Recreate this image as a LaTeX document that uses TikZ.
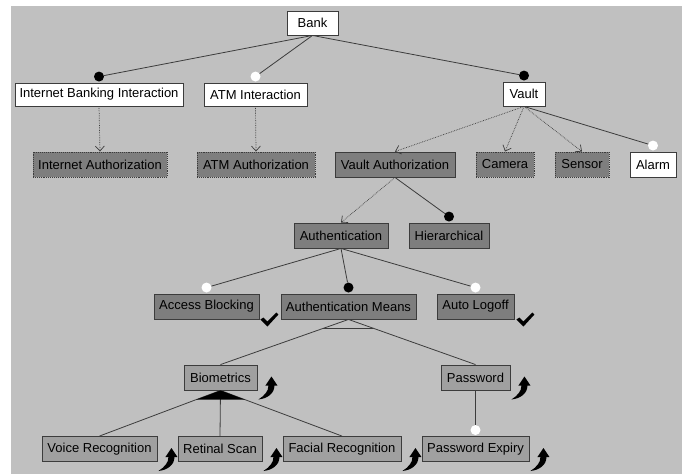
\documentclass[tikz,border=0pt]{standalone}
\usepackage{fontspec}
\setmainfont{Liberation Sans}
\usetikzlibrary{calc,arrows.meta}
\definecolor{bgc}{HTML}{C0C0C0}
\definecolor{dgc}{HTML}{7E7E7E}
\definecolor{lgc}{HTML}{A0A0A0}
\definecolor{edgec}{HTML}{3C3C3C}
\begin{document}
\begin{tikzpicture}[x=1pt,y=-1pt,
 box/.style={draw=edgec, line width=0.9pt, minimum height=24pt, inner sep=0pt, font=\fontsize{13}{15}\selectfont, text=black},
 wbox/.style={box, fill=white},
 dbox/.style={box, fill=dgc},
 dotbox/.style={box, fill=dgc, densely dotted},
 lbox/.style={box, fill=lgc},
 conn/.style={draw=edgec, line width=0.8pt},
 dconn/.style={draw=edgec, line width=0.7pt, densely dotted, -{Straight Barb[length=5pt,width=9pt]}},
 fdot/.style={circle, fill=black, minimum size=10pt, inner sep=0pt},
 odot/.style={circle, fill=white, minimum size=10pt, inner sep=0pt},
 curvy/.pic={\fill[black] (13,0) -- (19,9) -- (16,9) .. controls (16,17) and (9,22) .. (0,23) .. controls (6,19) and (10,15) .. (10,9) -- (7,9) -- cycle;},
 checkm/.pic={\fill[black] (0,7) -- (3,5) -- (7,9) -- (16,0) -- (18,2) -- (7,14) -- cycle;}
]
\useasboundingbox (0,0) rectangle (688,474);
\fill[bgc] (11,6) rectangle (682,474);

% nodes
\node[wbox, minimum width=51pt] (bank) at (312.5,23) {Bank};
\node[wbox, minimum width=168pt, minimum height=23pt] (ibi) at (99,94.5) {Internet Banking Interaction};
\node[wbox, minimum width=103pt, minimum height=23pt] (atmi) at (255.5,94.5) {ATM Interaction};
\node[wbox, minimum width=42pt] (vault) at (524,94) {Vault};

\node[dotbox, minimum width=134pt, minimum height=25pt] (ia) at (100,164.5) {Internet Authorization};
\node[dotbox, minimum width=118pt, minimum height=25pt] (atma) at (256,164.5) {ATM Authorization};
\node[dbox, minimum width=120pt, minimum height=25pt] (va) at (395,164.5) {Vault Authorization};
\node[dotbox, minimum width=58pt, minimum height=25pt] (cam) at (505,164.5) {Camera};
\node[dotbox, minimum width=54pt, minimum height=25pt] (sen) at (582,164.5) {Sensor};
\node[wbox, minimum width=46pt, minimum height=25pt] (alarm) at (653,164.5) {Alarm};

\node[dbox, minimum width=94pt, minimum height=25pt] (auth) at (341,235.5) {Authentication};
\node[dbox, minimum width=80pt, minimum height=25pt] (hier) at (449,235.5) {Hierarchical};

\node[dbox, minimum width=105pt, minimum height=25pt] (ab) at (206.5,306.5) {Access Blocking};
\node[dbox, minimum width=135pt, minimum height=25pt] (am) at (348.5,306.5) {Authentication Means};
\node[dbox, minimum width=77pt, minimum height=25pt] (al) at (475.5,306.5) {Auto Logoff};

\node[lbox, minimum width=73pt, minimum height=25pt] (bio) at (220.5,377.5) {Biometrics};
\node[lbox, minimum width=69pt, minimum height=25pt] (pw) at (475.5,377.5) {Password};

\node[lbox, minimum width=115pt, minimum height=25pt] (vr) at (99.5,449) {Voice Recognition};
\node[lbox, minimum width=84pt, minimum height=25pt] (rs) at (220,449) {Retinal Scan};
\node[lbox, minimum width=118pt, minimum height=25pt] (fr) at (342,449) {Facial Recognition};
\node[lbox, minimum width=107pt, minimum height=25pt] (pe) at (475.5,449) {Password Expiry};

% dots
\node[fdot] (d_ibi) at ($(ibi.north)+(0,-6)$) {};
\node[odot] (d_atmi) at ($(atmi.north)+(0,-6)$) {};
\node[fdot] (d_vault) at ($(vault.north)+(0,-6)$) {};
\node[odot] (d_alarm) at ($(alarm.north)+(0,-6)$) {};
\node[fdot] (d_hier) at ($(hier.north)+(0,-6)$) {};
\node[odot] (d_ab) at ($(ab.north)+(0,-6)$) {};
\node[fdot] (d_am) at ($(am.north)+(0,-6)$) {};
\node[odot] (d_al) at ($(al.north)+(0,-6)$) {};
\node[odot] (d_pe) at ($(pe.north)+(0,-6)$) {};

% solid connectors
\draw[conn] (bank.south) -- (d_ibi);
\draw[conn] (bank.south) -- (d_atmi);
\draw[conn] (bank.south) -- (d_vault);
\draw[conn] (vault.south) -- (d_alarm);
\draw[conn] (va.south) -- (d_hier);
\draw[conn] (auth.south) -- (d_ab);
\draw[conn] (auth.south) -- (d_am);
\draw[conn] (auth.south) -- (d_al);
\draw[conn] (pw.south) -- (d_pe);

% dotted arrows
\draw[dconn] (ibi.south) -- (ia.north);
\draw[dconn] (atmi.south) -- (atma.north);
\draw[dconn] (vault.south) -- (va.north);
\draw[dconn] (vault.south) -- (cam.north);
\draw[dconn] (vault.south) -- (sen.north);
\draw[dconn] (va.south) -- (auth.north);

% or-group
\draw[conn] (am.south) -- (bio.north);
\draw[conn] (am.south) -- (pw.north);
\draw[conn] ($(am.south)!0.1957!(bio.north)$) -- ($(am.south)!0.1957!(pw.north)$);

% alternative group
\draw[conn] (bio.south) -- (vr.north);
\draw[conn] (bio.south) -- (rs.north);
\draw[conn] (bio.south) -- (fr.north);
\fill[black] (bio.south) -- ($(bio.south)!0.2!(vr.north)$) -- ($(bio.south)!0.2!(fr.north)$) -- cycle;

% check marks
\pic at ($(ab.east)+(1,6)$) {checkm};
\pic at ($(al.east)+(2,6)$) {checkm};

% curved arrows
\pic at ($(bio.east)+(1,-1)$) {curvy};
\pic at ($(pw.east)+(1,-1)$) {curvy};
\pic at ($(vr.east)+(1,-1)$) {curvy};
\pic at ($(rs.east)+(1,-1)$) {curvy};
\pic at ($(fr.east)+(1,-1)$) {curvy};
\pic at ($(pe.east)+(1,-1)$) {curvy};
\end{tikzpicture}
\end{document}
